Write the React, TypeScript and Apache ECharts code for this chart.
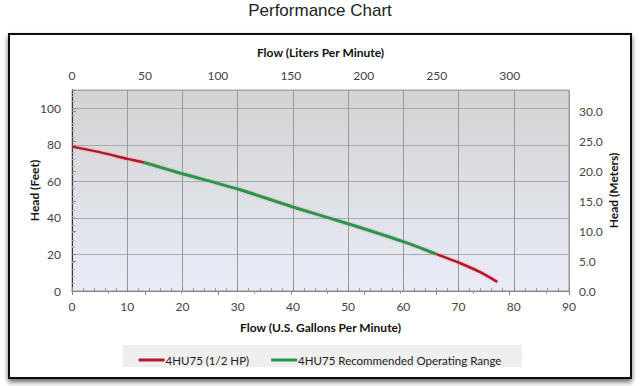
import React, { useEffect, useRef } from "react";
import * as echarts from "echarts";

const flowGpm = [0, 5, 10, 13, 20, 30, 40, 50, 60, 66, 70, 74, 77];
const headFt = [79, 76, 72.3, 70.3, 64.2, 55.8, 46, 36.8, 27, 20.2, 15.6, 10.2, 5];
const rangeFlowGpm = [13, 20, 30, 40, 50, 60, 66];
const rangeHeadFt = [70.3, 64.2, 55.8, 46, 36.8, 27, 20.2];
const seriesNames = ["4HU75 (1/2 HP)", "4HU75 Recommended Operating Range"];

const GPM_TO_LPM = 3.78541;
const FT_TO_M = 0.3048;
const X_MAX = 90;
const Y_MAX = 110;

export default function App() {
  const ref = useRef<HTMLDivElement>(null);
  useEffect(() => {
    const chart = echarts.init(ref.current!, null, { renderer: "svg" });
    const font = "Lato, 'Open Sans', sans-serif";
    const label = { color: "#444", fontSize: 12, fontFamily: font };
    const nameStyle = { color: "#111", fontSize: 12, fontWeight: "bold" as const, fontFamily: font };
    chart.setOption({
      animation: false,
      backgroundColor: "#fff",
      title: {
        text: "Performance Chart",
        left: "center",
        top: -3,
        textStyle: { fontFamily: "'Liberation Sans', Arial, sans-serif", fontSize: 17, fontWeight: "normal", color: "#222" },
      },
      graphic: [
        {
          type: "rect",
          shape: { x: 9, y: 34, width: 622, height: 344 },
          style: { fill: "#fff", stroke: "#111", lineWidth: 2, shadowBlur: 5, shadowColor: "rgba(0,0,0,0.6)", shadowOffsetY: 3 },
          z: -10,
        },
        {
          type: "rect",
          shape: { x: 123, y: 345, width: 399, height: 22 },
          style: { fill: "#efefef" },
          z: -5,
        },
      ],
      grid: {
        left: 72,
        right: 71,
        top: 90,
        bottom: 95,
        show: true,
        backgroundColor: new echarts.graphic.LinearGradient(0, 0, 0, 1, [
          { offset: 0, color: "#d3d3d3" },
          { offset: 1, color: "#e9ecf8" },
        ]),
        borderColor: "#999",
        borderWidth: 1,
      },
      legend: {
        top: 349,
        left: "center",
        itemWidth: 26,
        itemHeight: 3,
        itemGap: 22,
        icon: "rect",
        textStyle: { fontFamily: font, fontSize: 11.5, color: "#222", padding: [0, 0, 0, -4] },
        data: seriesNames,
      },
      xAxis: [
        {
          type: "value",
          position: "bottom",
          min: 0,
          max: X_MAX,
          interval: 10,
          name: "Flow (U.S. Gallons Per Minute)",
          nameLocation: "middle",
          nameGap: 30,
          nameTextStyle: nameStyle,
          axisLine: { show: true, lineStyle: { color: "#888" } },
          axisTick: { show: true, inside: true, length: 4, lineStyle: { color: "#888" } },
          minorTick: { show: true, splitNumber: 5, length: 3, lineStyle: { color: "#999" } },
          axisLabel: { ...label, margin: 9 },
          splitLine: { show: true, lineStyle: { color: "#999", width: 1 } },
        },
        {
          type: "value",
          position: "top",
          min: 0,
          max: X_MAX * GPM_TO_LPM,
          interval: 50,
          name: "Flow (Liters Per Minute)",
          nameLocation: "middle",
          nameGap: 32,
          nameTextStyle: nameStyle,
          axisLine: { show: true, lineStyle: { color: "#888" } },
          axisTick: { show: true, inside: true, length: 4, lineStyle: { color: "#888" } },
          minorTick: { show: true, splitNumber: 2, length: 3, lineStyle: { color: "#999" } },
          axisLabel: { ...label, margin: 9, showMaxLabel: false },
          splitLine: { show: false },
        },
      ],
      yAxis: [
        {
          type: "value",
          position: "left",
          min: 0,
          max: Y_MAX,
          interval: 20,
          name: "Head (Feet)",
          nameLocation: "middle",
          nameGap: 32,
          nameMoveOverlap: false,
          nameRotate: 90,
          nameTextStyle: nameStyle,
          axisLine: { show: true, lineStyle: { color: "#999" } },
          axisTick: { show: true, inside: true, length: 4, lineStyle: { color: "#888" } },
          minorTick: { show: true, splitNumber: 5, length: 3, lineStyle: { color: "#aaa" } },
          axisLabel: { ...label, margin: 11, showMaxLabel: false },
          splitLine: { show: true, lineStyle: { color: "#aaa", width: 1 } },
        },
        {
          type: "value",
          position: "right",
          min: 0,
          max: Y_MAX * FT_TO_M,
          interval: 5,
          name: "Head (Meters)",
          nameLocation: "middle",
          nameGap: 38,
          nameMoveOverlap: false,
          nameRotate: 90,
          nameTextStyle: nameStyle,
          axisLine: { show: true, lineStyle: { color: "#333" } },
          axisTick: { show: true, inside: false, length: 4, lineStyle: { color: "#888" } },
          minorTick: { show: true, splitNumber: 2, length: 2, lineStyle: { color: "#aaa" } },
          axisLabel: { ...label, margin: 10, showMaxLabel: false, formatter: (v: number) => v.toFixed(1) },
          splitLine: { show: false },
        },
      ],
      series: [
        {
          name: seriesNames[0],
          type: "line",
          xAxisIndex: 0,
          yAxisIndex: 0,
          data: flowGpm.map((x, i) => [x, headFt[i]]),
          smooth: 0.3,
          showSymbol: false,
          symbol: "none",
          itemStyle: { color: "#b3182c" },
          lineStyle: { color: "#b3182c", width: 2.5, shadowColor: "rgba(255,80,100,0.5)", shadowBlur: 2 },
          z: 3,
        },
        {
          name: seriesNames[1],
          type: "line",
          xAxisIndex: 0,
          yAxisIndex: 0,
          data: rangeFlowGpm.map((x, i) => [x, rangeHeadFt[i]]),
          smooth: 0.3,
          showSymbol: false,
          symbol: "none",
          itemStyle: { color: "#1f9a50" },
          lineStyle: { color: "#1f9a50", width: 2.5, shadowColor: "rgba(60,230,120,0.5)", shadowBlur: 2 },
          z: 4,
        },
      ],
    });
    return () => chart.dispose();
  }, []);
  return <div ref={ref} style={{ width: 640, height: 386, position: "absolute", left: 0, top: 0 }} />;
}
